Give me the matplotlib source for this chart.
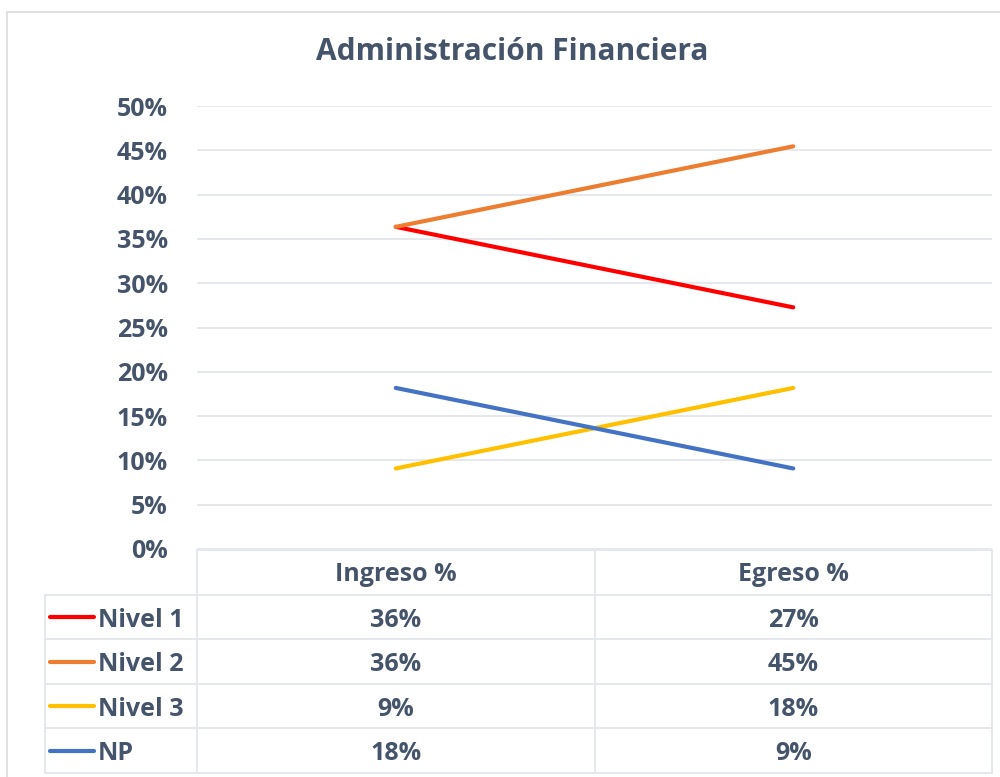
import matplotlib
matplotlib.use("Agg")
import matplotlib.pyplot as plt
from matplotlib.lines import Line2D
from matplotlib.patches import Rectangle

# data
categories = ["Ingreso %", "Egreso %"]
series_names = ["Nivel 1", "Nivel 2", "Nivel 3", "NP"]
nivel1 = [0.3636, 0.2727]
nivel2 = [0.3636, 0.4545]
nivel3 = [0.0909, 0.1818]
np_vals = [0.1818, 0.0909]
series_vals = [nivel1, nivel2, nivel3, np_vals]
series_colors = ["#FF0000", "#ED7D31", "#FFC000", "#4472C4"]
yticks = [0, 0.05, 0.10, 0.15, 0.20, 0.25, 0.30, 0.35, 0.40, 0.45, 0.50]

txt_color = "#44546A"
grid_color = "#E3E6EB"
plt.rcParams["font.family"] = ["Open Sans", "DejaVu Sans"]
plt.rcParams["font.weight"] = "bold"
fs = 18

W, H = 1000, 777
fig = plt.figure(figsize=(W / 100, H / 100), dpi=100)


def fx(px):
    return px / W


def fy(py):
    return 1 - py / H


# outer chart border
fig.patches.append(Rectangle((fx(7), fy(790)), fx(1010 - 7), fy(12) - fy(790),
                             transform=fig.transFigure, fill=False,
                             edgecolor="#D9DCE1", lw=1.2))

# main plot area
left, right, top, bottom = 197, 992, 106, 549
ax = fig.add_axes([fx(left), fy(bottom), fx(right - left), fy(top) - fy(bottom)])
x = list(range(len(categories)))
for name, vals, col in zip(series_names, series_vals, series_colors):
    ax.plot(x, vals, color=col, lw=3.0, solid_capstyle="round", label=name)

ax.set_xlim(-0.5, len(categories) - 0.5)
ax.set_ylim(0, 0.5)
ax.set_yticks(yticks)
ax.set_yticklabels([f"{int(round(v * 100))}%" for v in yticks])
ax.tick_params(axis="y", length=0, pad=21, labelsize=fs, labelcolor=txt_color)
ax.set_xticks([])
for lbl in ax.get_yticklabels():
    lbl.set_fontweight("bold")
ax.grid(axis="y", color=grid_color, lw=1.3)
ax.set_axisbelow(True)
for s in ax.spines.values():
    s.set_visible(False)

fig.text(0.512, fy(52), "Administración Financiera", ha="center", va="center",
         fontsize=21.5, color=txt_color, fontweight="bold")

# data table under the plot
tbl_top, tbl_bottom = 550, 773
tax = fig.add_axes([fx(left), fy(tbl_bottom), fx(right - left), fy(tbl_top) - fy(tbl_bottom)])
nrows = len(series_names) + 1
tax.set_xlim(-0.5, len(categories) - 0.5)
tax.set_ylim(nrows, 0)
tax.axis("off")

px_per_unit = (right - left) / len(categories)
row_left = -0.5 - (left - 45) / px_per_unit
lk = dict(color=grid_color, lw=1.3, clip_on=False)
# horizontal lines
tax.plot([-0.5, 1.5], [0, 0], **lk)
for r in range(1, nrows + 1):
    tax.plot([row_left, 1.5], [r, r], **lk)
# vertical lines
tax.plot([-0.5, -0.5], [0, nrows], **lk)
tax.plot([0.5, 0.5], [0, nrows], **lk)
tax.plot([1.5, 1.5], [0, nrows], **lk)
tax.plot([row_left, row_left], [1, nrows], **lk)

for j, cat in enumerate(categories):
    tax.text(j, 0.56, cat, ha="center", va="center", fontsize=fs,
             color=txt_color, fontweight="bold")

for i, (name, vals, col) in enumerate(zip(series_names, series_vals, series_colors)):
    yc = i + 1.5
    ty = yc + 0.07
    for j, v in enumerate(vals):
        tax.text(j, ty, f"{round(v * 100):.0f}%", ha="center", va="center",
                 fontsize=fs, color=txt_color, fontweight="bold")
    x0 = -0.5 - (left - 50) / px_per_unit
    x1 = -0.5 - (left - 94) / px_per_unit
    tax.add_line(Line2D([x0, x1], [yc, yc], color=col, lw=3.0,
                        solid_capstyle="round", clip_on=False))
    tax.text(-0.5 - (left - 98) / px_per_unit, ty, name, ha="left", va="center",
             fontsize=fs, color=txt_color, fontweight="bold")

fig.savefig("out.png", dpi=100)
